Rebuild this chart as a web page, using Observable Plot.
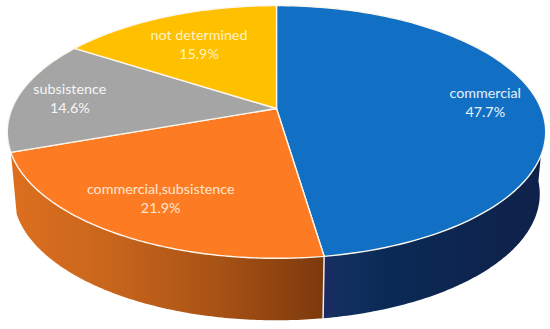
<!DOCTYPE html>
<html>
<head>
<meta charset="utf-8">
<script src="https://cdn.jsdelivr.net/npm/d3@7"></script>
<script src="https://cdn.jsdelivr.net/npm/@observablehq/plot@0.6"></script>
<style>html,body{margin:0;padding:0;background:#fff}svg{display:block}</style>
</head>
<body>
<div id="chart"></div>
<script>
const categories = ["commercial", "commercial,subsistence", "subsistence", "not determined"];
const shares = [47.7, 21.9, 14.6, 15.9];
const shareLabels = ["47.7%", "21.9%", "14.6%", "15.9%"];
const faceColors = ["#1170c4", "#fd7b22", "#a5a5a5", "#ffc000"];
const labelColors = ["#e8f1fb", "#ffe6d2", "#f6f6f6", "#fff3c4"];

// Tilted-disc view: far edge shrinks, the side wall hangs below the face.
const tilt = 0.1857, wallDepth = 0.508, wallShrink = 0.978;
const labelReach = [0.8, 0.75, 0.8, 0.68];
const total = d3.sum(shares);
const project = (deg, r = 1, k = 1, drop = 0) => {
  const t = deg * Math.PI / 180, u = r * Math.sin(t), v = r * Math.cos(t), w = 1 + tilt * v;
  return {x: k * u / w, y: v / w - drop};
};
const ends = d3.cumsum(shares).map(s => s / total * 360);
const starts = ends.map((e, i) => i ? ends[i - 1] : 0);
const arc = (a, b, k, drop) => d3.range(0, 121).map(i => project(a + (b - a) * i / 120, 1, k, drop));

const wedge = (i) => {
  const c = project(0, 0);
  return [c, ...arc(starts[i], ends[i], 1, 0), c];
};
const wall = (a, b) => {
  const top = arc(a, b, 1, 0), low = arc(a, b, wallShrink, wallDepth).reverse();
  return [...top, ...low, top[0]];
};
const rim = (a) => [project(a), project(a, 1, wallShrink, wallDepth)];

const gradient = (id, stops) =>
  `<linearGradient id="${id}" x1="0" x2="1" y1="0" y2="0">` +
  stops.map(([o, c]) => `<stop offset="${o}" stop-color="${c}"/>`).join("") + `</linearGradient>`;

const defsMark = () => {
  const g = document.createElementNS("http://www.w3.org/2000/svg", "defs");
  g.innerHTML =
    gradient("orangeWall", [[0, "#dd6f1f"], [0.3, "#c9661c"], [0.65, "#a95316"], [1, "#7c390c"]]) +
    gradient("blueWall", [[0, "#1d2a62"], [0.08, "#12305f"], [0.3, "#0a2a55"], [1, "#0f2149"]]);
  return g;
};

const labelRows = categories.map((c, i) => {
  const p = project((starts[i] + ends[i]) / 2, labelReach[i]);
  return {...p, name: c, pct: shareLabels[i], color: labelColors[i]};
});

const plot = Plot.plot({
  width: 550, height: 329, margin: 0,
  x: {domain: [-276 / 264.5, 274 / 264.5], axis: null},
  y: {domain: [-221 / 122, 108 / 122], axis: null},
  style: {background: "#fff"},
  marks: [
    defsMark,
    Plot.line(wall(ends[0], ends[1]), {x: "x", y: "y", fill: "url(#orangeWall)", stroke: "none"}),
    Plot.line(wall(95, ends[0]), {x: "x", y: "y", fill: "url(#blueWall)", stroke: "none"}),
    Plot.line(rim(ends[0]), {x: "x", y: "y", stroke: "#e4f2ea", strokeWidth: 1.5}),
    ...categories.map((c, i) =>
      Plot.line(wedge(i), {x: "x", y: "y", fill: faceColors[i], stroke: "#fdf6ec", strokeWidth: 1.4, strokeLinejoin: "round"})
    ),
    Plot.text(labelRows, {
      x: "x", y: "y", text: d => `${d.name}\n${d.pct}`, fill: "color",
      fontFamily: "Lato", fontSize: 14.3, lineHeight: 1.33, textAnchor: "middle"
    })
  ]
});
document.getElementById("chart").append(plot);
</script>
</body>
</html>
